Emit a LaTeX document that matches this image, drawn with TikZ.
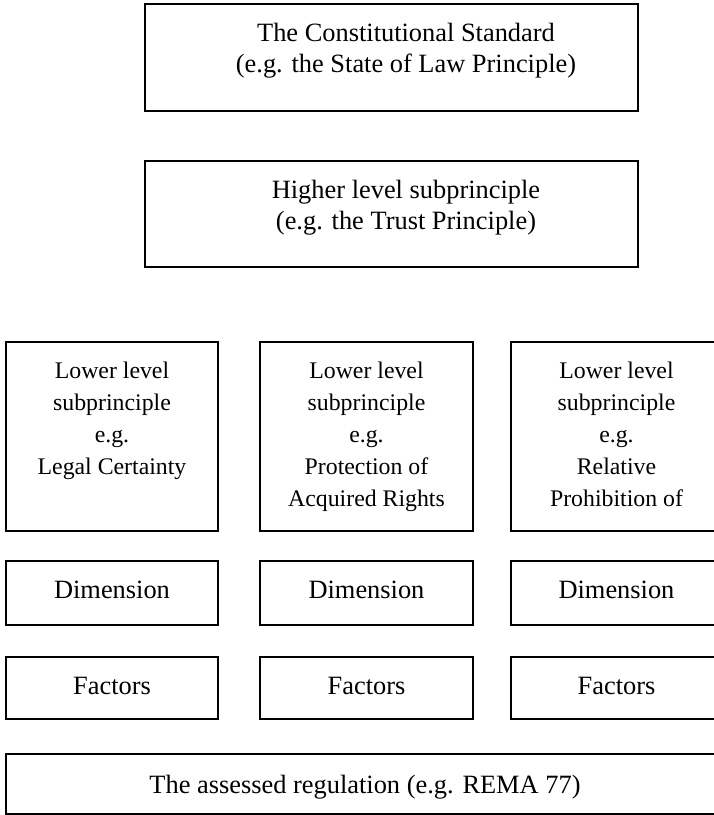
\documentclass[tikz,border=0pt]{standalone}
\usepackage{fontspec}
\setmainfont{Liberation Serif}
\begin{document}
\begin{tikzpicture}[x=1pt,y=-1pt,
  box/.style={draw,line width=1.3pt,inner sep=0pt,outer sep=0pt},
  big/.style={inner sep=0pt,align=center,font=\fontsize{26.4}{31}\selectfont},
  small/.style={inner sep=0pt,align=center,font=\fontsize{23.8}{32}\selectfont}]
\useasboundingbox (0,0) rectangle (714,815);
\clip (0,0) rectangle (714,815);
% top boxes
\node[box,minimum width=493pt,minimum height=107pt] (std) at (391.5,57.5) {};
\node[big,anchor=north] (stdt) at (406,23) {The Constitutional Standard\\(e.g. the State of Law Principle)};
\node[box,minimum width=493pt,minimum height=106pt] (high) at (391.5,214) {};
\node[big,anchor=north] (hight) at (406,180) {Higher level subprinciple\\(e.g. the Trust Principle)};
% lower level boxes
\node[box,minimum width=212pt,minimum height=189pt] (low1) at (112,436.5) {};
\node[box,minimum width=213pt,minimum height=189pt] (low2) at (366.5,436.5) {};
\node[box,minimum width=211pt,minimum height=189pt] (low3) at (616.5,436.5) {};
\node[small,anchor=north] (low1t) at (112,361.7) {Lower level\\subprinciple\\e.g.\\Legal Certainty};
\node[small,anchor=north] (low2t) at (366.5,361.7) {Lower level\\subprinciple\\e.g.\\Protection of\\Acquired Rights};
\node[small,anchor=north] (low3t) at (616.5,361.7) {Lower level\\subprinciple\\e.g.\\Relative\\Prohibition of};
% dimension row
\node[box,minimum width=212pt,minimum height=64pt] (dim1) at (112,593) {};
\node[box,minimum width=213pt,minimum height=64pt] (dim2) at (366.5,593) {};
\node[box,minimum width=211pt,minimum height=64pt] (dim3) at (616.5,593) {};
\node[big,anchor=base] (dim1t) at (112,598) {Dimension};
\node[big,anchor=base] (dim2t) at (366.5,598) {Dimension};
\node[big,anchor=base] (dim3t) at (616.5,598) {Dimension};
% factors row
\node[box,minimum width=212pt,minimum height=62pt] (fac1) at (112,688) {};
\node[box,minimum width=213pt,minimum height=62pt] (fac2) at (366.5,688) {};
\node[box,minimum width=211pt,minimum height=62pt] (fac3) at (616.5,688) {};
\node[big,anchor=base] (fac1t) at (112,694) {Factors};
\node[big,anchor=base] (fac2t) at (366.5,694) {Factors};
\node[big,anchor=base] (fac3t) at (616.5,694) {Factors};
% assessed regulation
\node[box,minimum width=718pt,minimum height=60pt] (reg) at (365,784) {};
\node[big,anchor=base] (regt) at (365,793) {The assessed regulation (e.g. REMA 77)};
\end{tikzpicture}
\end{document}
